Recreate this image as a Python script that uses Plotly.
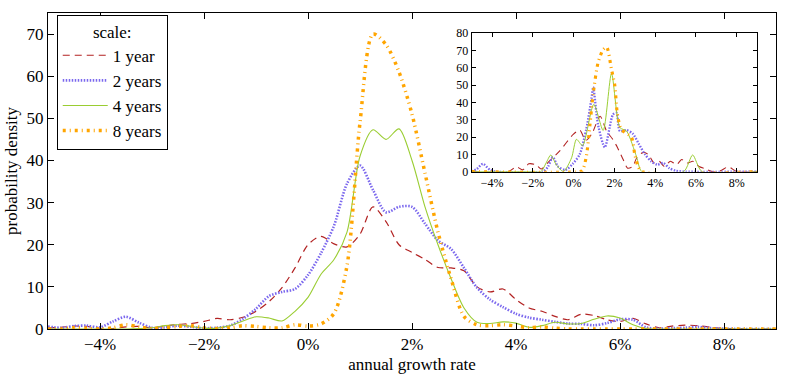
import plotly.graph_objects as go

# main panel: densities sampled every 0.25 percentage points
rate = [-5.0, -4.75, -4.5, -4.25, -4.0, -3.75, -3.5, -3.25, -3.0, -2.75, -2.5, -2.25,
        -2.0, -1.75, -1.5, -1.25, -1.0, -0.75, -0.5, -0.25, 0.0, 0.25, 0.5, 0.75,
        1.0, 1.25, 1.5, 1.75, 2.0, 2.25, 2.5, 2.75, 3.0, 3.25, 3.5, 3.75,
        4.0, 4.25, 4.5, 4.75, 5.0, 5.25, 5.5, 5.75, 6.0, 6.25, 6.5, 6.75,
        7.0, 7.25, 7.5, 7.75, 8.0, 8.25, 8.5, 8.75, 9.0]

dens_1y = [0.3, 0.4, 0.7, 0.6, 0.1, 0.1, 0.5, 0.6, 0.3, 0.7, 1.1, 1.3,
           1.8, 2.5, 2.2, 2.8, 4.2, 6.5, 9.8, 14.5, 20.0, 22.0, 20.2, 19.5,
           22.5, 29.0, 25.5, 20.0, 18.2, 16.5, 14.6, 14.5, 13.8, 10.0, 8.8, 9.5,
           7.0, 5.0, 4.2, 3.0, 2.2, 3.5, 3.2, 2.2, 1.8, 2.5, 1.2, 0.3,
           0.7, 0.9, 0.8, 0.4, 0.1, 0.1, 0.0, 0.0, 0.0]
dens_2y = [0.6, 0.3, 0.7, 0.8, 0.4, 1.8, 2.9, 1.5, 0.3, 0.4, 0.8, 0.5,
           0.2, 0.3, 0.8, 2.4, 4.8, 7.8, 8.8, 9.5, 12.8, 18.0, 24.5, 34.5,
           38.8, 33.0, 27.7, 29.0, 29.0, 25.0, 21.0, 19.0, 14.5, 9.8, 7.0, 5.2,
           3.6, 2.7, 2.2, 1.7, 1.3, 1.2, 0.9, 1.4, 2.3, 2.2, 0.4, 0.1,
           0.2, 0.3, 0.5, 0.2, 0.1, 0.0, 0.0, 0.0, 0.0]
dens_4y = [0.0, 0.0, 0.0, 0.0, 0.0, 0.0, 0.0, 0.1, 0.3, 0.8, 1.0, 0.6,
           0.2, 0.2, 0.8, 1.9, 2.9, 2.6, 1.9, 4.2, 7.5, 13.0, 16.5, 23.0,
           41.0, 47.3, 45.0, 47.5, 40.0, 29.0, 20.0, 12.0, 5.0, 1.6, 1.3, 1.7,
           1.4, 0.4, 0.8, 1.6, 1.2, 1.3, 2.3, 3.1, 2.6, 1.0, 0.1, 0.0,
           0.0, 0.0, 0.0, 0.0, 0.0, 0.0, 0.0, 0.0, 0.0]
dens_8y = [0.0, 0.0, 0.3, 0.2, 0.0, 0.3, 1.0, 0.5, 0.1, 0.3, 0.6, 0.8,
           0.3, 0.1, 0.3, 0.8, 0.6, 0.3, 0.3, 1.0, 0.7, 1.2, 3.7, 15.0,
           49.0, 70.0, 67.5, 61.0, 51.0, 37.0, 23.0, 12.0, 3.0, 1.0, 0.8, 1.0,
           0.7, 0.3, 0.5, 0.2, 0.0, 0.0, 0.0, 0.0, 0.0, 0.0, 0.0, 0.0,
           0.0, 0.0, 0.0, 0.0, 0.0, 0.0, 0.0, 0.0, 0.0]

# inset: narrower bandwidth, key points
ins_1y_x = [-5, -3.2, -2.8, -2.5, -2.2, -1.85, -1.6, -1.17, -0.68, -0.02, 0.3, 0.6, 0.9,
            1.3, 1.62, 1.9, 2.15, 2.43, 2.65, 2.9, 3.1, 3.4, 3.66, 3.95, 4.2, 4.45,
            4.75, 5.05, 5.3, 5.6, 5.85, 6.15, 6.45, 6.8, 7.2, 7.6, 8.0, 9]
ins_1y_y = [0, 0, 2.8, 1, 4.5, 4, 1.5, 6.4, 12, 21.5, 24, 18, 22,
            32, 23.4, 19, 14, 7, 2, 3, 8, 11, 10, 5, 6, 3,
            6, 4, 7, 5, 6, 3, 1.7, 0, 0.5, 2.8, 0, 0]
ins_2y_x = [-5, -4.75, -4.45, -4.1, -3.8, -1.5, -1.25, -1.02, -0.77, -0.4, -0.04, 0.3,
            0.63, 0.88, 0.96, 1.2, 1.53, 1.93, 2.1, 2.27, 2.6, 2.9, 3.2, 3.5, 3.8,
            4.1, 4.4, 4.7, 5.0, 5.5, 9]
ins_2y_y = [0, 1.5, 4.5, 1, 0, 0, 3, 8.5, 3, 1, 4.5, 10,
            25, 42.5, 48.9, 27, 14, 33, 34, 23.4, 24, 22, 16, 10, 6,
            4, 5, 2, 0.5, 0, 0]
ins_4y_x = [-5, -2, -1.6, -1.35, -1.12, -0.85, -0.5, -0.1, 0.14, 0.44, 0.99, 1.45,
            1.86, 2.27, 2.6, 3.09, 3.35, 5.4, 5.84, 6.3, 9]
ins_4y_y = [0, 0, 0, 5, 9.6, 4, 0, 8, 18.7, 15, 38.9, 23.8,
            56.8, 25.5, 23.4, 8.5, 0, 0, 9.6, 0, 0]
ins_8y_x = [-5, 0.3, 0.44, 0.63, 0.8, 0.96, 1.2, 1.45, 1.62, 1.86, 2.02, 2.15,
            2.35, 2.84, 3.0, 3.17, 3.35, 9]
ins_8y_y = [0, 0, 0.7, 9.2, 27, 45, 63, 70.5, 72, 59, 49.8, 33,
            24.3, 19.8, 10, 2.8, 0, 0]

names = ["1 year", "2 years", "4 years", "8 years"]
x_ticks = [-4, -2, 0, 2, 4, 6, 8]
x_ticktext = ["\u22124%", "\u22122%", "0%", "2%", "4%", "6%", "8%"]

styles = [
    dict(color="#b22222", width=1.2, dash="7px,5px"),
    dict(color="#7b68ee", width=2.6, dash="1.5px,1.5px"),
    dict(color="#9acd32", width=1.1),
    dict(color="#ffa500", width=3.5, dash="3px,4px,1px,4px"),
]

FONT = "Liberation Serif, serif"

fig = go.Figure()
main_series = [dens_1y, dens_2y, dens_4y, dens_8y]
for nm, ys, st in zip(names, main_series, styles):
    fig.add_trace(go.Scatter(x=rate, y=ys, mode="lines", name=nm,
                             line=dict(shape="spline", smoothing=0.8, **st)))

inset_series = [(ins_1y_x, ins_1y_y), (ins_2y_x, ins_2y_y),
                (ins_4y_x, ins_4y_y), (ins_8y_x, ins_8y_y)]
for nm, (xs, ys), st in zip(names, inset_series, styles):
    st2 = dict(st)
    st2["width"] = st["width"] * 0.9
    fig.add_trace(go.Scatter(x=xs, y=ys, mode="lines", name=nm, showlegend=False,
                             xaxis="x2", yaxis="y2",
                             line=dict(shape="spline", smoothing=0.7, **st2)))

axis_common = dict(showline=True, linecolor="black", linewidth=1, mirror="ticks",
                   ticks="inside", tickcolor="black", showgrid=False, zeroline=False)

fig.update_layout(
    width=787, height=377,
    margin=dict(l=48, r=11, t=6, b=48),
    paper_bgcolor="white", plot_bgcolor="white",
    font=dict(family=FONT, size=17, color="black"),
    xaxis=dict(range=[-5, 9], tickvals=x_ticks, ticktext=x_ticktext, ticklen=6,
               title=dict(text="annual growth rate", font=dict(size=17), standoff=4),
               **axis_common),
    yaxis=dict(range=[0, 75], tickvals=[0, 10, 20, 30, 40, 50, 60, 70], ticklen=6,
               title=dict(text="probability density", font=dict(size=17), standoff=4),
               **axis_common),
    xaxis2=dict(domain=[0.582, 0.974], anchor="y2", range=[-5, 9], tickvals=x_ticks,
                ticktext=x_ticktext, ticklen=4, tickfont=dict(size=12), **axis_common),
    yaxis2=dict(domain=[0.498, 0.936], anchor="x2", range=[0, 80],
                tickvals=[0, 10, 20, 30, 40, 50, 60, 70, 80], ticklen=4,
                tickfont=dict(size=12), **axis_common),
    legend=dict(x=0.012, y=0.995, xanchor="left", yanchor="top",
                bgcolor="white", bordercolor="black", borderwidth=1,
                font=dict(family=FONT, size=17),
                title=dict(text="scale:", side="top center",
                           font=dict(family=FONT, size=17)),
                tracegroupgap=0, itemwidth=45),
)

fig.write_html("out.html", config={"displayModeBar": False},
               post_script="document.body.style.margin='0px';document.body.style.overflow='hidden';")
